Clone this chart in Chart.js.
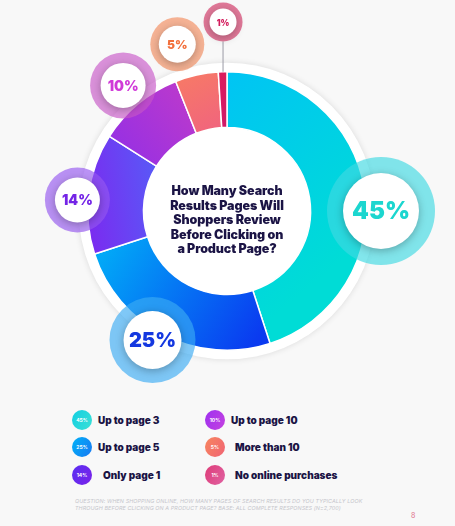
<!DOCTYPE html>
<html>
<head>
<meta charset="utf-8">
<script src="https://cdn.jsdelivr.net/npm/chart.js@4.4.1/dist/chart.umd.min.js"></script>
<style>
  html, body { margin: 0; padding: 0; }
  body { width: 455px; height: 526px; background: #f8f8f8; position: relative; overflow: hidden;
         font-family: "Inter", "Open Sans", sans-serif; color: #1b1445; }
  #chart { position: absolute; left: 0; top: 0; }
  #title { position: absolute; left: 137px; top: 184px; width: 180px; text-align: center;
           font-size: 12.5px; line-height: 14.6px; font-weight: 900; color: #1b1445; letter-spacing: -0.1px; }
  .leg { position: absolute; display: flex; align-items: center; font-size: 10px; font-weight: 900; color: #1b1445; }
  .dot { width: 20px; height: 20px; border-radius: 50%; color: #fff; font-size: 5px; font-weight: 700;
         display: flex; align-items: center; justify-content: center; margin-right: 6px; }
  #note { position: absolute; left: 75px; top: 498px; font-size: 5.4px; line-height: 7.4px; font-style: italic;
          color: #c6c6cc; letter-spacing: 0.1px; }
  #page { position: absolute; left: 411px; top: 511px; font-size: 7px; color: #e0708a; }
</style>
</head>
<body>
<canvas id="chart" width="455" height="400"></canvas>
<div id="title">How Many Search<br>Results Pages Will<br>Shoppers Review<br>Before Clicking on<br>a Product Page?</div>
<div id="legend"></div>
<div id="note">QUESTION: WHEN SHOPPING ONLINE, HOW MANY PAGES OF SEARCH RESULTS DO YOU TYPICALLY LOOK<br>THROUGH BEFORE CLICKING ON A PRODUCT PAGE? BASE: ALL COMPLETE RESPONSES (N=2,700)</div>
<div id="page">8</div>
<script>
// data
const categories = ["Up to page 3", "Up to page 5", "Only page 1", "Up to page 10", "More than 10", "No online purchases"];
const shares = [45, 25, 14, 10, 5, 1];
const shareLabels = shares.map(v => v + "%");

// slice gradients: [x0,y0,x1,y1] as fractions of chart area, then colours
const sliceGrad = [
  [0.5, 0.0, 1.0, 0.6, "#00c4f4", "#00dcd6"],
  [0.05, 0.5, 0.65, 0.9, "#00b8f8", "#0a3af0"],
  [0.0, 0.5, 0.32, 0.45, "#7a2cf0", "#5262f8"],
  [0.1, 0.35, 0.45, 0.08, "#922fe6", "#c23bc8"],
  [0.35, 0.0, 0.5, 0.3, "#f77a66", "#ee5c86"],
  [0.5, 0.0, 0.5, 0.3, "#dc1c5c", "#c8186e"]
];

// bubble styles per slice: distance from centre, angle tweak (deg), halo r, white r, font px, colours
const bubble = [
  { dist: 154, tweak: 9, halo: 54, inner: 38, font: 24, text: "#1cd6cf", ring: "rgba(63,217,226,0.65)" },
  { dist: 149, tweak: 3, halo: 43, inner: 29, font: 20, text: "#1438e0", ring: "rgba(59,170,243,0.65)" },
  { dist: 150, tweak: -3, halo: 32.5, inner: 22.5, font: 14, text: "#7424e6", ring: "rgba(149,88,239,0.65)" },
  { dist: 163, tweak: 0, halo: 33, inner: 22.5, font: 14, text: "#d03ad8", ring: "rgba(199,88,199,0.65)" },
  { dist: 174, tweak: -4, halo: 27, inner: 18.5, font: 12, text: "#f2703c", ring: "rgba(243,140,94,0.65)" },
  { dist: 189, tweak: 0.6, halo: 19.5, inner: 13.5, font: 8.5, text: "#d41c5c", ring: "rgba(211,51,100,0.65)" }
];

const legendDot = [
  ["#12cfe2", "#3be0d6"], ["#00b2f8", "#1878f2"], ["#5a2ff2", "#7a22e8"],
  ["#9e30f0", "#c442e0"], ["#f7865e", "#f06474"], ["#de3c78", "#e062a2"]
];

function sliceColor(ctx) {
  const chart = ctx.chart, a = chart.chartArea;
  const g = sliceGrad[ctx.dataIndex];
  if (!a) return g[4];
  const w = a.right - a.left, h = a.bottom - a.top;
  const grad = chart.ctx.createLinearGradient(a.left + g[0] * w, a.top + g[1] * h, a.left + g[2] * w, a.top + g[3] * h);
  grad.addColorStop(0, g[4]);
  grad.addColorStop(1, g[5]);
  return grad;
}

const ringBack = {
  id: "ringBack",
  beforeDatasetsDraw(chart) {
    const arc = chart.getDatasetMeta(0).data[0];
    if (!arc) return;
    const c = chart.ctx;
    c.save();
    c.shadowColor = "rgba(0,0,0,0.12)";
    c.shadowBlur = 6;
    c.beginPath();
    c.arc(arc.x, arc.y, arc.outerRadius + 9, 0, Math.PI * 2);
    c.fillStyle = "#ffffff";
    c.fill();
    c.restore();
  }
};

const bubbles = {
  id: "bubbles",
  afterDatasetsDraw(chart) {
    const c = chart.ctx;
    chart.getDatasetMeta(0).data.forEach((arc, i) => {
      const b = bubble[i];
      const ang = (arc.startAngle + arc.endAngle) / 2 + b.tweak * Math.PI / 180;
      const x = arc.x + Math.cos(ang) * b.dist;
      const y = arc.y + Math.sin(ang) * b.dist;
      c.save();
      if (i === shares.length - 1) {
        // connector from the smallest bubble to the ring
        c.strokeStyle = "#9a9aa6";
        c.lineWidth = 1;
        c.beginPath();
        c.moveTo(x, y + b.halo);
        c.lineTo(x, arc.y - arc.outerRadius);
        c.stroke();
      }
      c.beginPath();
      c.arc(x, y, b.halo, 0, Math.PI * 2);
      c.fillStyle = b.ring;
      c.fill();
      c.shadowColor = "rgba(0,0,0,0.28)";
      c.shadowBlur = 8;
      c.shadowOffsetY = 2;
      c.beginPath();
      c.arc(x, y, b.inner, 0, Math.PI * 2);
      c.fillStyle = "#ffffff";
      c.fill();
      c.shadowColor = "transparent";
      c.fillStyle = b.text;
      c.font = "900 " + b.font + "px Inter, 'Open Sans', sans-serif";
      c.textAlign = "center";
      c.textBaseline = "middle";
      c.fillText(shareLabels[i], x, y + 1);
      c.restore();
    });
  }
};

new Chart(document.getElementById("chart"), {
  type: "doughnut",
  data: {
    labels: categories,
    datasets: [{
      data: shares,
      backgroundColor: sliceColor,
      borderColor: "#ffffff",
      borderWidth: 1.5
    }]
  },
  options: {
    responsive: false,
    animation: false,
    cutout: "60%",
    layout: { padding: { left: 87, right: 88, top: 71, bottom: 49 } },
    plugins: { legend: { display: false }, tooltip: { enabled: false } }
  },
  plugins: [ringBack, bubbles]
});

// legend, two columns of three
const legend = document.getElementById("legend");
categories.forEach((name, i) => {
  const col = Math.floor(i / 3), row = i % 3;
  const item = document.createElement("div");
  item.className = "leg";
  item.style.left = (col === 0 ? 72 : 205) + "px";
  item.style.top = [410, 437, 465][row] + "px";
  const dot = document.createElement("div");
  dot.className = "dot";
  dot.style.background = "linear-gradient(120deg," + legendDot[i][0] + "," + legendDot[i][1] + ")";
  dot.textContent = shareLabels[i];
  const label = document.createElement("span");
  label.textContent = name;
  if (row > 0 && col === 1) label.style.marginLeft = "4px";
  if (row === 2 && col === 0) label.style.marginLeft = "5px";
  item.appendChild(dot);
  item.appendChild(label);
  legend.appendChild(item);
});
</script>
</body>
</html>
